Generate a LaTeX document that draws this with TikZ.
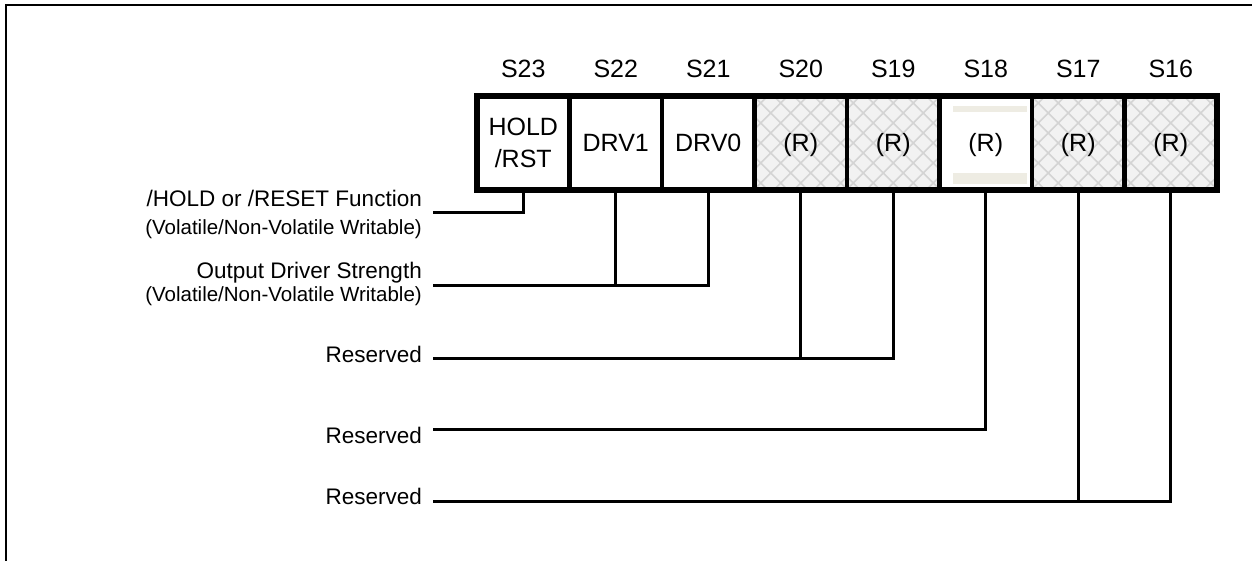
\documentclass[tikz,border=0pt]{standalone}
\usepackage{fontspec}
\setmainfont{Liberation Sans}
\usetikzlibrary{calc}
\definecolor{hatchfill}{HTML}{F2F2F2}
\definecolor{hatchline}{HTML}{D4D4D4}
\definecolor{beigebar}{HTML}{EEECE3}
\begin{document}
\begin{tikzpicture}[x=1pt,y=-1pt,
  cell/.style={draw, line width=4.5pt, minimum width=92.5pt, minimum height=94pt,
    inner sep=0pt, outer sep=0pt, font=\fontsize{25}{32}\selectfont,
    text height=18pt, text depth=0pt, align=center},
  hatched/.style={fill=hatchfill, path picture={
    \foreach \k in {-8,...,8}{
      \draw[hatchline, line width=1.6pt] ($(path picture bounding box.center)+(\k*20pt,0pt)$) +(-70pt,-70pt) -- +(70pt,70pt);
      \draw[hatchline, line width=1.6pt] ($(path picture bounding box.center)+(\k*20pt,0pt)$) +(-70pt,70pt) -- +(70pt,-70pt);
    }}},
  hdr/.style={font=\fontsize{25}{30}\selectfont, text height=18pt, text depth=0pt, inner sep=0pt},
  lbl/.style={font=\fontsize{22.5}{27}\selectfont, anchor=base east, inner sep=0pt},
  sublbl/.style={font=\fontsize{20.5}{24}\selectfont, anchor=base east, inner sep=0pt},
  conn/.style={line width=3pt},
  frame/.style={line width=2.5pt}
]
\useasboundingbox (0,0) rectangle (1252,561);
\draw[frame] (6,561) -- (6,5) -- (1252,5);

% cells
\node[cell, text height=50pt, text depth=0pt] (s23) at (523.25,143) {HOLD\\/RST};
\node[cell] (s22) at (615.75,143) {DRV1};
\node[cell] (s21) at (708.25,143) {DRV0};
\node[cell, hatched] (s20) at (800.75,143) {(R)};
\node[cell, hatched] (s19) at (893.25,143) {(R)};
\node[cell] (s18) at (985.75,143) {};
\fill[beigebar] (953,106) rectangle (1027,112);
\fill[beigebar] (953,173) rectangle (1027,184);
\node[hdr] (s18t) at (s18) {(R)};
\node[cell, hatched] (s17) at (1078.25,143) {(R)};
\node[cell, hatched] (s16) at (1170.75,143) {(R)};
\draw[line width=5.5pt] (s23.north west) rectangle (s16.south east);

% headers
\node[hdr] (h23) at (523.25,69) {S23};
\node[hdr] (h22) at (615.75,69) {S22};
\node[hdr] (h21) at (708.25,69) {S21};
\node[hdr] (h20) at (800.75,69) {S20};
\node[hdr] (h19) at (893.25,69) {S19};
\node[hdr] (h18) at (985.75,69) {S18};
\node[hdr] (h17) at (1078.25,69) {S17};
\node[hdr] (h16) at (1170.75,69) {S16};

% left labels
\node[lbl] (lhold) at (422,207) {/HOLD or /RESET Function};
\node[sublbl] (lholdsub) at (422,235) {(Volatile/Non-Volatile Writable)};
\node[lbl] (ldrv) at (422,278) {Output Driver Strength};
\node[sublbl] (ldrvsub) at (422,301) {(Volatile/Non-Volatile Writable)};
\node[lbl] (lr1) at (422,362) {Reserved};
\node[lbl] (lr2) at (422,443) {Reserved};
\node[lbl] (lr3) at (422,504) {Reserved};

% connector starts
\coordinate (c1) at (433,213);
\coordinate (c2) at (433,285);
\coordinate (c3) at (433,358);
\coordinate (c4) at (433,429);
\coordinate (c5) at (433,501);

\draw[conn] (c1) -| (s23.south);
\draw[conn] (c2) -| (s21.south);
\draw[conn] (s22.south) -- (s22.south |- c2);
\draw[conn] (c3) -| (s19.south);
\draw[conn] (s20.south) -- (s20.south |- c3);
\draw[conn] (c4) -| (s18.south);
\draw[conn] (c5) -| (s16.south);
\draw[conn] (s17.south) -- (s17.south |- c5);
\end{tikzpicture}
\end{document}
